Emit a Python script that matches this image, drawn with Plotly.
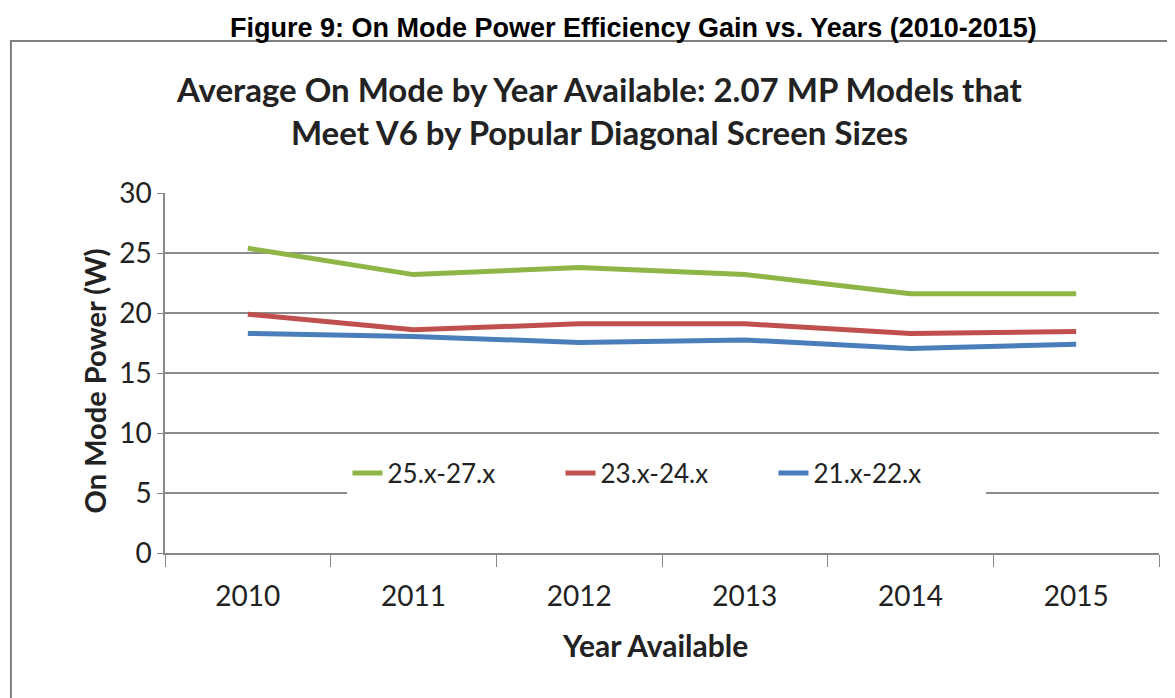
import plotly.graph_objects as go

# --- data ---
years = ["2010", "2011", "2012", "2013", "2014", "2015"]
size_25_27 = [25.4, 23.2, 23.8, 23.2, 21.6, 21.6]
size_23_24 = [19.9, 18.6, 19.1, 19.1, 18.3, 18.45]
size_21_22 = [18.3, 18.05, 17.55, 17.75, 17.05, 17.4]

series = [
    ("25.x-27.x", size_25_27, "#8db646"),
    ("23.x-24.x", size_23_24, "#c0504d"),
    ("21.x-22.x", size_21_22, "#4a7ebb"),
]

font = "Lato, 'Open Sans', sans-serif"

fig = go.Figure()
for name, vals, col in series:
    fig.add_trace(go.Scatter(
        x=years, y=vals, name=name, mode="lines",
        line=dict(color=col, width=5),
    ))

# page body has an 8px margin, so the figure is 8px smaller each way
fig.update_layout(
    width=1167, height=690,
    paper_bgcolor="white", plot_bgcolor="white",
    margin=dict(l=157, r=16, t=185, b=145),
    font=dict(family=font, size=28, color="#222"),
    showlegend=True,
    legend=dict(
        orientation="h", x=0.505, y=0.222, xanchor="center", yanchor="middle",
        bgcolor="white", font=dict(size=26, color="#222"),
        entrywidth=168, tracegroupgap=0,
    ),
    xaxis=dict(
        type="category", range=[-0.5, 5.5],
        showline=True, linecolor="#888", linewidth=1.5,
        ticks="outside", tickson="boundaries", ticklen=12, tickcolor="#888",
        showgrid=False, tickfont=dict(size=28), ticklabelstandoff=18,
    ),
    yaxis=dict(
        range=[0, 30], dtick=5,
        showline=True, linecolor="#888", linewidth=1.5,
        ticks="outside", ticklen=6, tickcolor="#888",
        gridcolor="#8c8c8c", gridwidth=1.5, zeroline=False,
        tickfont=dict(size=28),
    ),
)

# border of the chart object
fig.add_shape(type="rect", xref="paper", yref="paper",
              x0=-0.155, x1=1.2, y0=-0.5, y1=1.422,
              line=dict(color="#7f7f7f", width=2), layer="below")

# figure caption above the chart box
fig.add_annotation(text="<b>Figure 9: On Mode Power Efficiency Gain vs. Years (2010-2015)</b>",
                   xref="paper", yref="paper", x=0.471, y=1.458, yanchor="middle",
                   showarrow=False, font=dict(family="Arial, 'Liberation Sans'", size=27, color="black"))

# chart title
fig.add_annotation(text="<b>Average On Mode by Year Available: 2.07 MP Models that<br>Meet V6 by Popular Diagonal Screen Sizes</b>",
                   xref="paper", yref="paper", x=0.4376, y=1.228, yanchor="middle",
                   showarrow=False, font=dict(size=33, color="#222"))

# axis titles
fig.add_annotation(text="<b>On Mode Power (W)</b>", textangle=-90,
                   xref="paper", yref="paper", x=-0.0905, y=0.478, yanchor="middle",
                   showarrow=False, font=dict(size=29, color="#222"))
fig.add_annotation(text="<b>Year Available</b>",
                   xref="paper", yref="paper", x=0.493, y=-0.2556, yanchor="middle",
                   showarrow=False, font=dict(size=30, color="#222"))

fig.write_html("out.html")
